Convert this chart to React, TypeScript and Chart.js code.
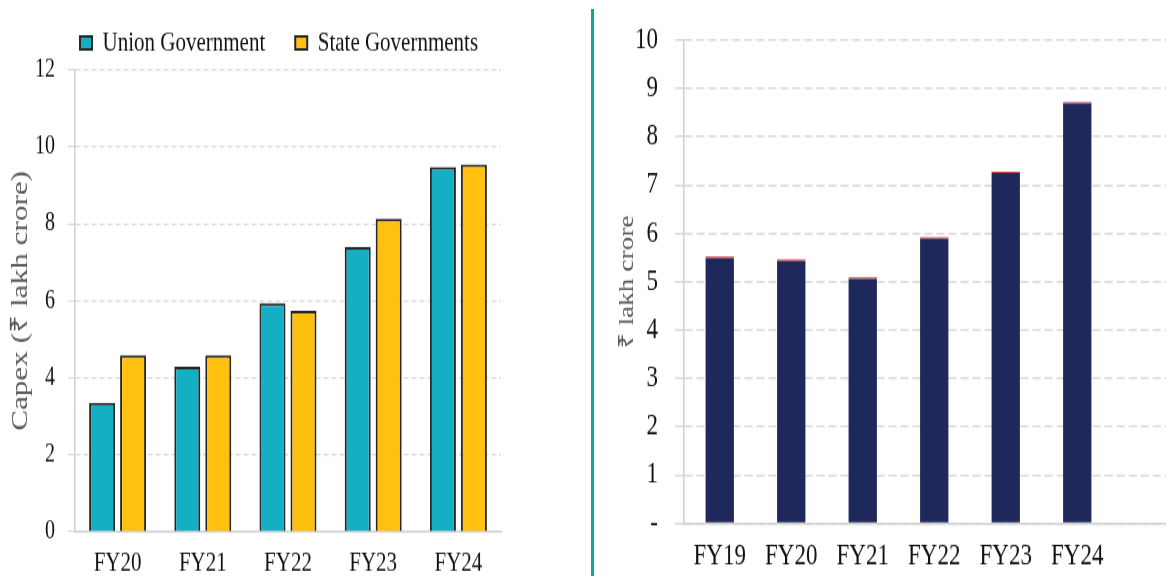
import React, { useEffect, useRef } from 'react';
import { Chart, registerables } from 'chart.js';

Chart.register(...registerables);

// ---------- data ----------
const capexYears = ['FY20', 'FY21', 'FY22', 'FY23', 'FY24'];
const unionCapex = [3.35, 4.29, 5.94, 7.4, 9.48];
const stateCapex = [4.59, 4.59, 5.74, 8.13, 9.54];
const capexAxisMax = 12;
const capexAxisStep = 2;

const totalYears = ['FY19', 'FY20', 'FY21', 'FY22', 'FY23', 'FY24'];
const totalMain = [5.49, 5.43, 5.06, 5.89, 7.25, 8.69];
const totalTop = [0.03, 0.03, 0.03, 0.03, 0.03, 0.03];
const totalAxisMax = 10;
const totalAxisStep = 1;

// ---------- style ----------
const SERIF = "'Liberation Serif', 'Times New Roman', serif";
const CANVAS_H = 443; // bitmap height, shown stretched to 576px
const TEXT = '#111111';
const TITLE = '#595959';
const GRID = '#d9d9d9';
const AXIS = '#d0d0d0';
const TEAL = '#15AFC4';
const GOLD = '#FFC010';
const NAVY = '#1F285A';
const RED = '#E0474C';
const DIVIDER = '#17A398';
const RIGHT_DASH = [8, 4];

const LEG_PAD = 30;
const LEG_FONT = 21;
const LEG_CENTER = 33.1;
const LEG_LEFT = 80;

const legendPlacer = {
  id: 'legendPlacer',
  afterLayout(chart: any) {
    const lg = chart.legend;
    if (!lg) return;
    lg.top = LEG_CENTER - LEG_PAD - LEG_FONT / 2;
    lg.bottom = lg.top + 90;
    lg.left = LEG_LEFT - LEG_PAD;
    lg.right = chart.width;
    lg.width = lg.right - lg.left;
    lg.height = lg.bottom - lg.top;
  },
};

const extendGrid = {
  id: 'extendGrid',
  beforeDatasetsDraw(chart: any) {
    const { ctx, chartArea } = chart;
    const y = chart.scales.y;
    const lw = 1.5;
    const period = RIGHT_DASH[0] + RIGHT_DASH[1];
    ctx.save();
    ctx.strokeStyle = GRID;
    ctx.lineWidth = lw;
    ctx.setLineDash(RIGHT_DASH);
    ctx.lineDashOffset = (chartArea.right - chartArea.left - 0.75) % period;
    y.ticks.forEach((t: any) => {
      const p = y.getPixelForValue(t.value);
      const py = Math.round(p - lw / 2) + lw / 2;
      ctx.beginPath();
      ctx.moveTo(chartArea.right, py);
      ctx.lineTo(chart.width, py);
      ctx.stroke();
    });
    ctx.setLineDash([]);
    ctx.lineDashOffset = 0;
    ctx.strokeStyle = AXIS;
    const by = Math.round(chartArea.bottom - lw / 2) + lw / 2;
    ctx.beginPath();
    ctx.moveTo(chartArea.right, by);
    ctx.lineTo(chart.width, by);
    ctx.stroke();
    ctx.restore();
  },
};

function leftConfig(): any {
  return {
    type: 'bar',
    data: {
      labels: capexYears,
      datasets: [
        {
          label: 'Union Government',
          data: unionCapex,
          backgroundColor: TEAL,
          borderColor: '#262626',
          borderWidth: 2,
          categoryPercentage: 0.727,
          barPercentage: 0.84,
        },
        {
          label: 'State Governments',
          data: stateCapex,
          backgroundColor: GOLD,
          borderColor: '#262626',
          borderWidth: 2,
          categoryPercentage: 0.727,
          barPercentage: 0.84,
        },
      ],
    },
    options: {
      responsive: false,
      animation: false,
      devicePixelRatio: 1,
      layout: { padding: { left: 0, right: 89, top: 13.8, bottom: 0 } },
      plugins: {
        legend: {
          display: true,
          position: 'top',
          align: 'start',
          maxHeight: 40,
          labels: {
            font: { family: SERIF, size: LEG_FONT },
            color: TEXT,
            boxWidth: 12,
            boxHeight: 10,
            padding: LEG_PAD,
          },
        },
        tooltip: { enabled: false },
      },
      scales: {
        x: {
          grid: { display: false, drawTicks: false },
          border: { display: true, color: AXIS, width: 1.5 },
          ticks: { font: { family: SERIF, size: 21 }, color: TEXT, padding: 11.4 },
          afterFit: (s: any) => {
            s.height = 34;
          },
        },
        y: {
          min: 0,
          max: capexAxisMax,
          ticks: {
            stepSize: capexAxisStep,
            font: { family: SERIF, size: 20 },
            color: TEXT,
            padding: 13,
          },
          grid: { color: GRID, lineWidth: 1.2, tickLength: 7, drawTicks: true },
          border: { display: true, color: AXIS, width: 1.5, dash: [5, 3] },
          title: {
            display: true,
            text: 'Capex (₹ lakh crore)',
            font: { family: SERIF, size: 24 },
            color: TITLE,
            padding: { top: 6.6, bottom: 0 },
          },
          afterFit: (s: any) => {
            s.width = 75;
          },
        },
      },
    },
    plugins: [legendPlacer],
  };
}

function rightConfig(): any {
  return {
    type: 'bar',
    data: {
      labels: totalYears,
      datasets: [
        {
          label: 'Capex',
          data: totalMain,
          backgroundColor: NAVY,
          borderWidth: 0,
          categoryPercentage: 1,
          barPercentage: 0.396,
        },
        {
          label: 'Other',
          data: totalTop,
          backgroundColor: RED,
          borderWidth: 0,
          categoryPercentage: 1,
          barPercentage: 0.396,
        },
      ],
    },
    options: {
      responsive: false,
      animation: false,
      devicePixelRatio: 1,
      layout: { padding: { left: 0, right: 53, top: 27.5, bottom: 0 } },
      plugins: {
        legend: { display: false },
        tooltip: { enabled: false },
      },
      scales: {
        x: {
          stacked: true,
          grid: { display: false, drawTicks: false },
          border: { display: true, color: AXIS, width: 1.5 },
          ticks: { font: { family: SERIF, size: 23 }, color: TEXT, padding: 12 },
          afterFit: (s: any) => {
            s.height = 40.5;
          },
        },
        y: {
          stacked: true,
          min: 0,
          max: totalAxisMax,
          ticks: {
            stepSize: totalAxisStep,
            font: { family: SERIF, size: 23 },
            color: TEXT,
            padding: 17,
            callback: (v: any) => (v === 0 ? '-' : String(v)),
          },
          grid: { color: GRID, lineWidth: 1.5, tickLength: 9, drawTicks: true },
          border: { display: true, color: AXIS, width: 1.5, dash: RIGHT_DASH },
          title: {
            display: true,
            text: '₹ lakh crore',
            font: { family: SERIF, size: 21 },
            color: TITLE,
            padding: { top: 18.4, bottom: 0 },
          },
          afterFit: (s: any) => {
            s.width = 88;
          },
        },
      },
    },
    plugins: [extendGrid],
  };
}

export default function App() {
  const leftRef = useRef<HTMLCanvasElement>(null);
  const rightRef = useRef<HTMLCanvasElement>(null);

  useEffect(() => {
    const c1 = new Chart(leftRef.current as HTMLCanvasElement, leftConfig());
    const c2 = new Chart(rightRef.current as HTMLCanvasElement, rightConfig());
    return () => {
      c1.destroy();
      c2.destroy();
    };
  }, []);

  return (
    <div
      style={{
        position: 'fixed',
        left: 0,
        top: 0,
        width: 1166,
        height: 576,
        background: '#ffffff',
        overflow: 'hidden',
      }}
    >
      <canvas
        ref={leftRef}
        width={590}
        height={CANVAS_H}
        style={{ position: 'absolute', left: 0, top: 0, width: '590px', height: '576px' }}
      />
      <div
        style={{
          position: 'absolute',
          left: 591,
          top: 9,
          width: 3,
          height: 567,
          background: DIVIDER,
        }}
      />
      <canvas
        ref={rightRef}
        width={570}
        height={CANVAS_H}
        style={{ position: 'absolute', left: 596, top: 0, width: '570px', height: '576px' }}
      />
    </div>
  );
}
